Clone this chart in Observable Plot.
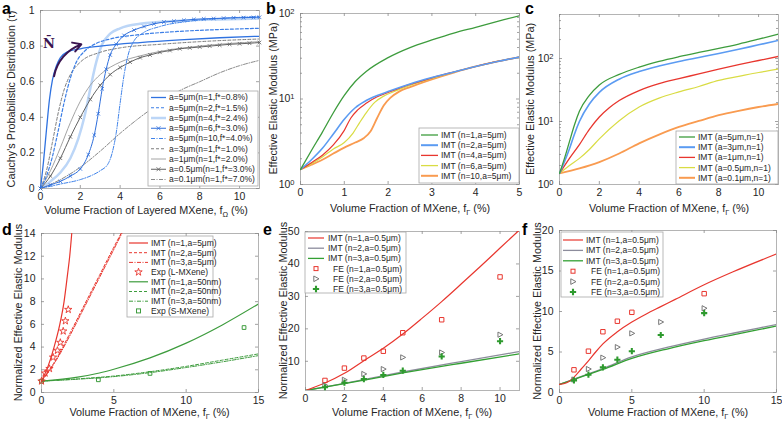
<!DOCTYPE html>
<html><head><meta charset="utf-8">
<script src="https://cdn.jsdelivr.net/npm/d3@7"></script>
<script src="https://cdn.jsdelivr.net/npm/@observablehq/plot@0.6"></script>
<style>
body{margin:0;background:#fff;}
#fig{position:relative;width:782px;height:424px;overflow:hidden;background:#fff;font-family:"Liberation Sans",Arial,Helvetica,sans-serif;}
#fig svg{position:absolute;}
</style></head><body><div id="fig"></div>
<script>
// ---------- Panel a: Cauchy's probabilistic distribution [f (%), tau] ----------
const aN1  = [[0,0],[0.15,0.15],[0.3,0.33],[0.45,0.5],[0.6,0.61],[0.8,0.69],[1.0,0.735],[1.3,0.765],[2,0.785],[3,0.8],[5,0.82],[7,0.835],[9,0.847],[11,0.855]];
const aN2  = [[0,0],[0.3,0.07],[0.6,0.18],[0.9,0.33],[1.2,0.49],[1.5,0.62],[1.8,0.71],[2.2,0.77],[2.8,0.815],[3.5,0.84],[5,0.865],[7,0.883],[9,0.893],[11,0.9]];
const aN4  = [[0,0],[0.5,0.04],[1,0.09],[1.5,0.17],[1.9,0.28],[2.2,0.4],[2.5,0.56],[2.8,0.71],[3.1,0.81],[3.5,0.87],[4,0.9],[5,0.925],[7,0.942],[9,0.95],[11,0.955]];
const aN6  = [[0,0],[0.5,0.02],[1,0.04],[1.5,0.07],[2,0.11],[2.4,0.19],[2.7,0.3],[2.9,0.42],[3.1,0.56],[3.3,0.67],[3.5,0.75],[3.8,0.81],[4.2,0.86],[4.7,0.89],[5.2,0.91],[5.7,0.925],[6.2,0.935],[6.7,0.94],[7.2,0.945],[7.7,0.95],[8.2,0.953],[8.7,0.955],[9.2,0.957],[9.7,0.959],[10.2,0.96],[10.7,0.961],[11,0.962]];
const aN10 = [[0,0],[1,0.025],[2,0.05],[2.6,0.075],[3,0.1],[3.4,0.14],[3.6,0.2],[3.8,0.31],[4.0,0.48],[4.2,0.64],[4.4,0.75],[4.7,0.83],[5.1,0.87],[6,0.91],[7.5,0.94],[9,0.955],[11,0.967]];
const aA3  = [[0,0],[0.3,0.1],[0.6,0.26],[0.9,0.43],[1.2,0.56],[1.5,0.64],[2,0.71],[3,0.765],[4,0.79],[6,0.81],[8,0.825],[11,0.84]];
const aA1  = [[0,0],[0.5,0.1],[1,0.23],[1.5,0.37],[2,0.49],[2.5,0.58],[3,0.64],[4,0.71],[5,0.745],[6,0.77],[8,0.8],[11,0.825]];
const aA05 = [[0,0],[0.5,0.07],[1,0.17],[1.5,0.29],[2,0.4],[2.5,0.5],[3,0.58],[3.5,0.64],[4,0.68],[4.5,0.71],[5,0.735],[5.5,0.75],[6,0.765],[6.5,0.775],[7,0.785],[7.5,0.79],[8,0.795],[8.5,0.8],[9,0.805],[9.5,0.81],[10,0.813],[10.5,0.816],[11,0.82]];
const aA01 = [[0,0],[1,0.05],[2,0.12],[3,0.21],[4,0.31],[5,0.4],[6,0.48],[7,0.55],[8,0.6],[9,0.65],[10,0.69],[11,0.72]];
const aArrow = [{x1:0.68, y1:0.63, x2:2.05, y2:0.81}];
const aNote  = [{x:0.42, y:0.815, t:"N\u0304"}];
const aLabels = ["a=5μm(n=1,f*=0.8%)","a=5μm(n=2,f*=1.5%)","a=5μm(n=4,f*=2.4%)","a=5μm(n=6,f*=3.0%)","a=5μm(n=10,f*=4.0%)","a=3μm(n=1,f*=1.0%)","a=1μm(n=1,f*=2.0%)","a=0.5μm(n=1,f*=3.0%)","a=0.1μm(n=1,f*=7.0%)"];

// ---------- Panel b: modulus (MPa) vs f, a=5um ----------
const bN1  = [[0,1.5],[0.25,2.5],[0.5,4.1],[0.75,6.9],[1,11],[1.25,16],[1.5,21],[2,30.5],[2.5,40],[3,49],[3.5,59],[4,69],[4.5,81],[5,94]];
const bN2  = [[0,1.5],[0.25,1.95],[0.5,2.65],[0.75,3.9],[1,5.8],[1.25,7.9],[1.5,9.6],[2,12.2],[2.5,15],[3,17.8],[3.5,20.7],[4,24],[4.5,27.5],[5,31]];
const bN4  = [[0,1.5],[0.25,1.8],[0.5,2.2],[0.75,2.9],[1,4.3],[1.15,6],[1.3,7.4],[1.5,8.9],[1.75,10.6],[2,11.9],[2.5,14.8],[3,17.7],[3.5,20.7],[4,24],[4.5,27.5],[5,31]];
const bN6  = [[0,1.5],[0.25,1.75],[0.5,2.1],[0.75,2.6],[1,3.1],[1.2,4.0],[1.35,5.3],[1.5,6.9],[1.7,9.2],[1.9,10.8],[2.2,12.6],[2.5,14.4],[3,17.4],[3.5,20.6],[4,24],[4.5,27.5],[5,31]];
const bN10 = [[0,1.5],[0.25,1.7],[0.5,1.95],[0.75,2.3],[1,2.7],[1.25,3.1],[1.45,3.5],[1.6,4.2],[1.75,6.0],[1.9,8.4],[2.05,10.3],[2.25,12.2],[2.5,13.8],[3,17.0],[3.5,20.4],[4,24],[4.5,27.5],[5,31]];
const bLabels = ["IMT (n=1,a=5μm)","IMT (n=2,a=5μm)","IMT (n=4,a=5μm)","IMT (n=6,a=5μm)","IMT (n=10,a=5μm)"];

// ---------- Panel c: modulus (MPa) vs f, n=1 ----------
const cA5  = [[0,1.5],[0.25,2.6],[0.5,4.8],[0.75,8.8],[1,14.5],[1.5,26],[2,38],[3,56],[4,73],[5,90],[6,107],[7,125],[8,145],[9,170],[10,203],[11,244]];
const cA3  = [[0,1.5],[0.25,2.3],[0.5,3.7],[0.75,6.3],[1,10],[1.5,19],[2,29],[3,47],[4,62],[5,76],[6,90],[7,104],[8,120],[9,140],[10,165],[11,194]];
const cA1  = [[0,1.5],[0.5,2.6],[1,4.3],[1.5,7.5],[2,11.8],[2.5,16.5],[3,21.5],[4,31],[5,40],[6,48],[7,57],[8,68],[9,80],[10,93],[11,108]];
const cA05 = [[0,1.5],[0.5,2.0],[1,2.6],[1.5,3.6],[2,5.3],[3,10.3],[4,17],[5,23.5],[6,29.5],[7,36],[8,45],[9,52],[10,60],[11,68]];
const cA01 = [[0,1.5],[1,1.8],[2,2.27],[3,3.1],[4,4.5],[5,6.2],[6,8.2],[7,10.2],[8,12.6],[9,14.8],[10,17],[11,19]];
const cLabels = ["IMT (a=5μm,n=1)","IMT (a=3μm,n=1)","IMT (a=1μm,n=1)","IMT (a=0.5μm,n=1)","IMT (a=0.1μm,n=1)"];

// ---------- Panel d: normalized modulus vs f ----------
const dL1 = [[0,1],[0.45,2.3],[0.87,4],[1.25,5.9],[1.56,8],[1.8,10.4],[1.95,12],[2.09,14]];
const dL2 = [[0,1],[0.5,1.9],[1,2.9],[2,5.3],[3,7.8],[4,10.3],[5,12.8],[5.5,14]];
const dL3 = [[0,1],[0.5,1.85],[1,2.8],[2,5.1],[3,7.6],[4,10.1],[5,12.6],[5.55,14]];
const dExpL = [[0,1],[0.25,1.7],[0.55,2.1],[0.8,3.1],[1.1,3.7],[1.3,4.4],[1.5,5.4],[1.65,6.3],[1.85,7.3]];
const dS1 = [[0,1],[2.5,1.35],[4,1.72],[5,2.05],[7.5,3.05],[10,4.35],[12.5,5.95],[15,7.8]];
const dS2 = [[0,1],[2.5,1.2],[5,1.45],[7.5,1.83],[10,2.3],[12.5,2.85],[15,3.4]];
const dS3 = [[0,1],[2.5,1.17],[5,1.4],[7.5,1.75],[10,2.2],[12.5,2.7],[15,3.25]];
const dExpS = [[0,1],[3.93,1.12],[7.5,1.68],[14.0,5.72]];
const dLabels = ["IMT (n=1,a=5μm)","IMT (n=2,a=5μm)","IMT (n=3,a=5μm)","Exp (L-MXene)","IMT (n=1,a=50nm)","IMT (n=2,a=50nm)","IMT (n=3,a=50nm)","Exp (S-MXene)"];

// ---------- Panel e ----------
const eIMT1 = [[0,1],[1,3.3],[2,6.3],[3,10.2],[4,14],[5,18.4],[6,23.3],[7,28.4],[8,33.8],[9,39.3],[10,44.9],[11,50.5]];
const eIMT2 = [[0,1],[2,3.2],[5,6.7],[8,9.9],[11,13.0]];
const eIMT3 = [[0,1],[2,3.1],[5,6.4],[8,9.4],[11,12.3]];
const eFE1 = [[1,4.1],[2,7.9],[3,11],[4,13.1],[5,18.8],[7,22.8],[10,36]];
const eFE2 = [[1,2.6],[2,4.3],[3,6.1],[4,7.6],[5,11.2],[7,12.7],[10,18.2]];
const eFE3 = [[1,2.0],[2,3.4],[3,4.5],[4,5.8],[5,7.1],[7,11.5],[10,16.2]];

// ---------- Panel f ----------
const fIMT1 = [[0,1],[0.5,1.2],[1,1.9],[1.5,2.9],[2,3.9],[2.5,5.0],[3,6.0],[4,7.5],[5,8.7],[6,9.7],[7,10.6],[8,11.5],[10,13.3],[12,14.9],[15,17.1]];
const fIMT2 = [[0,1],[1,1.65],[2,2.3],[3,2.95],[5,4.4],[7.5,5.6],[10,6.6],[12.5,7.5],[15,8.4]];
const fIMT3 = [[0,1],[1,1.6],[2,2.25],[3,2.85],[5,4.2],[7.5,5.4],[10,6.4],[12.5,7.3],[15,8.2]];
const fFE1 = [[1,2.8],[2,5.1],[3,7.5],[4,8.8],[5,9.9],[10,12.2]];
const fFE2 = [[1,1.6],[2,2.9],[3,4.3],[4,5.6],[5,7.3],[7,8.7],[10,10.4]];
const fFE3 = [[1,1.5],[2,2.2],[3,3.1],[4,4.05],[5,5.1],[7,7.1],[10,9.8]];
const efLabels = ["IMT (n=1,a=0.5μm)","IMT (n=2,a=0.5μm)","IMT (n=3,a=0.5μm)","FE (n=1,a=0.5μm)","FE (n=2,a=0.5μm)","FE (n=3,a=0.5μm)"];

// ---------- tick values ----------
const ticks0to10 = [0,2,4,6,8,10];
const ticks0to5 = [0,1,2,3,4,5];
const ticks0to15 = [0,5,10,15];
const ticksTau = [0,0.2,0.4,0.6,0.8,1];
const ticksLog = [1,10,100];
const minorLogB = [2,3,4,5,6,7,8,9,20,30,40,50,60,70,80,90];
const minorLogC = [2,3,4,5,6,7,8,9,20,30,40,50,60,70,80,90,200,300,400,500];
const ticksD = [0,2,4,6,8,10,12,14];
const ticksE = [10,20,30,40,50];
const ticksF = [0,5,10,15,20];

// ---------- colours ----------
const INK = "#262626";
const FONT = '"Liberation Sans", Arial, Helvetica, sans-serif';
const GREEN = "#3d9c3d", BLUE = "#5b9bf2", RED = "#e8362e", YELLOW = "#d9dc44", ORANGE = "#f99b50";
const GRAYL = "#8c8c9c", GREENE = "#33a033";

const fig = document.getElementById("fig");
const triRight = {draw(ctx, size){ const r = Math.sqrt(size/Math.PI); ctx.moveTo(-r*0.8,-r); ctx.lineTo(r*1.1,0); ctx.lineTo(-r*0.8,r); ctx.closePath(); }};

function line(data, o) { return Plot.line(data, {x: d=>d[0], y: d=>d[1], curve: "monotone-x", clip: true, ...o}); }
function dots(data, o) { return Plot.dot(data, {x: d=>d[0], y: d=>d[1], ...o}); }

function panel(p) {
  const mt = 8, mr = 8, ml = 34, mb = 22;
  const fw = p.x1 - p.x0, fh = p.y1 - p.y0;
  const tk = {stroke: "#8a8a8a", strokeWidth: 0.8};
  const marks = [
    Plot.frame({stroke: "#b4b4b4", strokeWidth: 1}),
    Plot.tickX(p.xt, {x: d=>d, insetTop: fh-3, ...tk}),
    Plot.tickX(p.xt, {x: d=>d, insetBottom: fh-3, ...tk}),
    Plot.tickY(p.yt, {y: d=>d, insetRight: fw-3, ...tk}),
    Plot.tickY(p.yt, {y: d=>d, insetLeft: fw-3, ...tk})
  ];
  if (p.minor) {
    marks.push(Plot.tickY(p.minor, {y: d=>d, insetRight: fw-2, ...tk}));
    marks.push(Plot.tickY(p.minor, {y: d=>d, insetLeft: fw-2, ...tk}));
  }
  const chart = Plot.plot({
    width: fw+ml+mr, height: fh+mt+mb, marginTop: mt, marginRight: mr, marginBottom: mb, marginLeft: ml,
    style: {fontFamily: FONT, fontSize: "10.5px", color: INK, background: "transparent", overflow: "visible"},
    x: {domain: p.xd, ticks: p.xt, tickSize: 0, tickPadding: 4, label: null, tickFormat: d => String(d)},
    y: {type: p.yType || "linear", domain: p.yd, ticks: p.yt, tickSize: 0, tickPadding: 6, label: null,
        tickFormat: p.yType === "log" ? (d => "10|" + Math.round(Math.log10(d))) : (d => String(d))},
    marks: marks.concat(p.marks)
  });
  chart.style.position = "absolute";
  chart.style.left = (p.x0 - ml) + "px";
  chart.style.top = (p.y0 - mt) + "px";
  chart.style.maxWidth = "none";
  if (p.yType === "log") {
    d3.select(chart).selectAll('g[aria-label="y-axis tick label"] text').each(function() {
      const parts = this.textContent.split("|");
      if (parts.length === 2) {
        this.textContent = parts[0];
        d3.select(this).append("tspan").attr("dy", "-0.45em").attr("font-size", "7.5px").text(parts[1]);
      }
    });
  }
  fig.appendChild(chart);
  return chart;
}

// Panel a
panel({x0:40, x1:259, y0:10, y1:188, xd:[0,11], yd:[0,1], xt:ticks0to10, yt:ticksTau, marks:[
  line(aN4,  {stroke:"#bcd6f7", strokeWidth:2.5}),
  line(aA01, {stroke:"#8a8a8a", strokeWidth:1, strokeDasharray:"4,1.5,1,1.5"}),
  line(aA1,  {stroke:"#a4a4a4", strokeWidth:1}),
  line(aA3,  {stroke:"#7c7c7c", strokeWidth:1, strokeDasharray:"3,2"}),
  line(aA05, {stroke:"#626262", strokeWidth:1}),
  dots(aA05, {symbol:"times", r:1.8, stroke:"#626262", strokeWidth:0.8}),
  line(aN10, {stroke:"#3f83ea", strokeWidth:1, strokeDasharray:"4,1.5,1,1.5"}),
  line(aN6,  {stroke:"#2f6fdc", strokeWidth:1}),
  dots(aN6,  {symbol:"times", r:1.8, stroke:"#2f6fdc", strokeWidth:0.8}),
  line(aN2,  {stroke:"#3d7fe6", strokeWidth:1.2, strokeDasharray:"3,2"}),
  line(aN1,  {stroke:"#2f72e0", strokeWidth:1.3}),
  Plot.arrow(aArrow, {x1:"x1", y1:"y1", x2:"x2", y2:"y2", bend:30, stroke:"#3a1450", strokeWidth:2, headLength:7}),
  Plot.text(aNote, {x:"x", y:"y", text:"t", fontFamily:"DejaVu Serif", fontWeight:"bold", fontSize:13, fill:"#3a1450"})
]});

// Panel b
panel({x0:300, x1:519, y0:13, y1:184, xd:[0,5], yd:[1,100], yType:"log", xt:ticks0to5, yt:ticksLog, minor:minorLogB, marks:[
  line(bN10, {stroke:ORANGE, strokeWidth:1.8}),
  line(bN6,  {stroke:YELLOW, strokeWidth:1.2}),
  line(bN4,  {stroke:RED, strokeWidth:1.2}),
  line(bN2,  {stroke:BLUE, strokeWidth:1.6}),
  line(bN1,  {stroke:GREEN, strokeWidth:1.3})
]});

// Panel c
panel({x0:559, x1:778, y0:14, y1:184, xd:[0,11], yd:[1,500], yType:"log", xt:ticks0to10, yt:ticksLog, minor:minorLogC, marks:[
  line(cA01, {stroke:ORANGE, strokeWidth:1.8}),
  line(cA05, {stroke:YELLOW, strokeWidth:1.2}),
  line(cA1,  {stroke:RED, strokeWidth:1.3}),
  line(cA3,  {stroke:BLUE, strokeWidth:1.6}),
  line(cA5,  {stroke:GREEN, strokeWidth:1.3})
]});

// Panel d
panel({x0:41, x1:258, y0:233, y1:392, xd:[0,15], yd:[0,14], xt:ticks0to15, yt:ticksD, marks:[
  line(dS3, {stroke:GREEN, strokeWidth:1, strokeDasharray:"4,1.5,1,1.5"}),
  line(dS2, {stroke:GREEN, strokeWidth:1, strokeDasharray:"3,2"}),
  line(dS1, {stroke:GREEN, strokeWidth:1.2}),
  line(dL3, {stroke:RED, strokeWidth:1, strokeDasharray:"4,1.5,1,1.5"}),
  line(dL2, {stroke:RED, strokeWidth:1, strokeDasharray:"3,2"}),
  line(dL1, {stroke:RED, strokeWidth:1.2}),
  dots(dExpS, {symbol:"square", r:2.1, stroke:GREEN, fill:"none", strokeWidth:1}),
  dots(dExpL, {symbol:"star", r:2.3, stroke:RED, fill:"none", strokeWidth:0.9})
]});

// Panel e
panel({x0:305, x1:519, y0:231, y1:390, xd:[0,11], yd:[1,50], xt:ticks0to10, yt:ticksE, marks:[
  line(eIMT2, {stroke:GRAYL, strokeWidth:1.3}),
  line(eIMT3, {stroke:GREENE, strokeWidth:1.3}),
  line(eIMT1, {stroke:RED, strokeWidth:1.2}),
  dots(eFE1, {symbol:"square", r:2.5, stroke:RED, fill:"none", strokeWidth:1}),
  dots(eFE2, {symbol:triRight, r:2.6, stroke:"#777", fill:"none", strokeWidth:1}),
  dots(eFE3, {symbol:"cross", r:2.6, fill:"#2e9a2e", stroke:"none"})
]});

// Panel f
panel({x0:559, x1:776, y0:230, y1:392, xd:[0,15], yd:[0,20], xt:ticks0to15, yt:ticksF, marks:[
  line(fIMT2, {stroke:GRAYL, strokeWidth:1.3}),
  line(fIMT3, {stroke:GREENE, strokeWidth:1.3}),
  line(fIMT1, {stroke:RED, strokeWidth:1.2}),
  dots(fFE1, {symbol:"square", r:2.5, stroke:RED, fill:"none", strokeWidth:1}),
  dots(fFE2, {symbol:triRight, r:2.6, stroke:"#777", fill:"none", strokeWidth:1}),
  dots(fFE3, {symbol:"cross", r:2.6, fill:"#2e9a2e", stroke:"none"})
]});

// ---------- overlay: labels, panel letters, legends ----------
const overlay = d3.select(fig).append("svg").attr("width",782).attr("height",424)
  .style("left","0px").style("top","0px").style("pointer-events","none")
  .attr("font-family", FONT);

function xLabel(x, y, main, sub) {
  const t = overlay.append("text").attr("x",x).attr("y",y).attr("text-anchor","middle").attr("font-size","10.8px").attr("fill",INK);
  t.append("tspan").text(main);
  t.append("tspan").attr("dy","3").attr("font-size","7.5px").text(sub);
  t.append("tspan").attr("dy","-3").text(" (%)");
}
function yLabel(x, y, txt) {
  overlay.append("text").attr("transform",`translate(${x},${y}) rotate(-90)`).attr("text-anchor","middle")
    .attr("font-size","10.8px").attr("fill",INK).text(txt);
}
function letter(x, y, t) {
  overlay.append("text").attr("x",x).attr("y",y).attr("font-size","16px").attr("font-weight","bold").attr("fill","#000").text(t);
}
xLabel(146, 214, "Volume Fraction of Layered MXene, f", "Ω");
xLabel(410, 212, "Volume Fraction of MXene, f", "Γ");
xLabel(669, 212, "Volume Fraction of MXene, f", "Γ");
xLabel(149.5, 416, "Volume Fraction of MXene, f", "Γ");
xLabel(412, 416, "Volume Fraction of MXene, f", "Γ");
xLabel(668, 416, "Volume Fraction of MXene, f", "Γ");
yLabel(15, 99, "Cauchy's Probabilistic Distribution (τ)");
yLabel(277, 98.5, "Effective Elastic Modulus (MPa)");
yLabel(534, 99, "Effective Elastic Modulus (MPa)");
yLabel(22, 312.5, "Normalized Effective Elastic Modulus");
yLabel(287, 310.5, "Normalized Effective Elastic Modulus");
yLabel(541, 311, "Normalized Effective Elastic Modulus");
letter(2, 14, "a"); letter(266, 14, "b"); letter(525, 14, "c");
letter(2, 235, "d"); letter(263, 235, "e"); letter(522, 235, "f");

function marker(g, type, x, y, color) {
  if (type === "times") g.append("path").attr("d",`M${x-2},${y-2}L${x+2},${y+2}M${x-2},${y+2}L${x+2},${y-2}`).attr("stroke",color).attr("stroke-width",0.8);
  else if (type === "star") g.append("path").attr("d", d3.symbol(d3.symbolStar, 17)()).attr("transform",`translate(${x},${y})`).attr("fill","none").attr("stroke",color).attr("stroke-width",0.9);
  else if (type === "square") g.append("rect").attr("x",x-2).attr("y",y-2).attr("width",4).attr("height",4).attr("fill","none").attr("stroke",color);
  else if (type === "tri") g.append("path").attr("d",`M${x-2.2},${y-2.8}L${x+3},${y}L${x-2.2},${y+2.8}Z`).attr("fill","none").attr("stroke",color);
  else if (type === "cross") g.append("path").attr("d", d3.symbol(d3.symbolCross, 22)()).attr("transform",`translate(${x},${y})`).attr("fill",color);
}
function legend(L) {
  const g = overlay.append("g");
  g.append("rect").attr("x",L.x).attr("y",L.y).attr("width",L.w).attr("height",L.h).attr("fill","#fff").attr("stroke","#a8a8a8").attr("stroke-width",0.8);
  L.items.forEach((it, i) => {
    const cy = L.row0 + i * L.dy;
    if (it.stroke) g.append("line").attr("x1",L.s0).attr("x2",L.s1).attr("y1",cy).attr("y2",cy)
      .attr("stroke",it.stroke).attr("stroke-width",it.width || 1).attr("stroke-dasharray",it.dash || null);
    if (it.marker) marker(g, it.marker, (L.s0 + L.s1) / 2, cy, it.mcolor || it.stroke);
    g.append("text").attr("x",L.tx + (it.indent || 0)).attr("y",cy).attr("dy","0.35em").attr("font-size","8.5px").attr("fill",INK).text(it.label);
  });
}
const DD = "4,1.5,1,1.5";
legend({x:148, y:91, w:110, h:95, row0:97.5, dy:10.25, s0:151, s1:166, tx:169, items:[
  {label:aLabels[0], stroke:"#2f72e0", width:1.3},
  {label:aLabels[1], stroke:"#3d7fe6", width:1.2, dash:"3,2"},
  {label:aLabels[2], stroke:"#bcd6f7", width:2.5},
  {label:aLabels[3], stroke:"#2f6fdc", marker:"times"},
  {label:aLabels[4], stroke:"#3f83ea", dash:DD},
  {label:aLabels[5], stroke:"#7c7c7c", dash:"3,2"},
  {label:aLabels[6], stroke:"#a4a4a4"},
  {label:aLabels[7], stroke:"#626262", marker:"times"},
  {label:aLabels[8], stroke:"#8a8a8a", dash:DD}
]});
legend({x:419, y:128, w:100, h:55, row0:135, dy:10.2, s0:421, s1:438, tx:441, items:[
  {label:bLabels[0], stroke:GREEN, width:1.3},
  {label:bLabels[1], stroke:BLUE, width:2},
  {label:bLabels[2], stroke:RED, width:1.3},
  {label:bLabels[3], stroke:YELLOW, width:1.3},
  {label:bLabels[4], stroke:ORANGE, width:2}
]});
legend({x:676, y:131, w:102, h:53, row0:137, dy:10.2, s0:679, s1:695, tx:698, items:[
  {label:cLabels[0], stroke:GREEN, width:1.3},
  {label:cLabels[1], stroke:BLUE, width:2},
  {label:cLabels[2], stroke:RED, width:1.3},
  {label:cLabels[3], stroke:YELLOW, width:1.3},
  {label:cLabels[4], stroke:ORANGE, width:2}
]});
legend({x:127, y:236, w:86, h:81, row0:243, dy:9.7, s0:129, s1:148, tx:151, items:[
  {label:dLabels[0], stroke:RED, width:1.2},
  {label:dLabels[1], stroke:RED, dash:"3,2"},
  {label:dLabels[2], stroke:RED, dash:DD},
  {label:dLabels[3], marker:"star", mcolor:RED},
  {label:dLabels[4], stroke:GREEN, width:1.2},
  {label:dLabels[5], stroke:GREEN, dash:"3,2"},
  {label:dLabels[6], stroke:GREEN, dash:DD},
  {label:dLabels[7], marker:"square", mcolor:GREEN}
]});
const efItems = [
  {label:efLabels[0], stroke:RED, width:1.2},
  {label:efLabels[1], stroke:GRAYL, width:1.3},
  {label:efLabels[2], stroke:GREENE, width:1.3},
  {label:efLabels[3], marker:"square", mcolor:RED, indent:5},
  {label:efLabels[4], marker:"tri", mcolor:"#777", indent:5},
  {label:efLabels[5], marker:"cross", mcolor:"#2e9a2e", indent:5}
];
legend({x:305, y:232, w:101, h:61, row0:238, dy:10.2, s0:308, s1:324, tx:328, items:efItems});
legend({x:561, y:232, w:102, h:65, row0:240, dy:10.4, s0:563, s1:583, tx:586, items:efItems});
</script></body></html>
